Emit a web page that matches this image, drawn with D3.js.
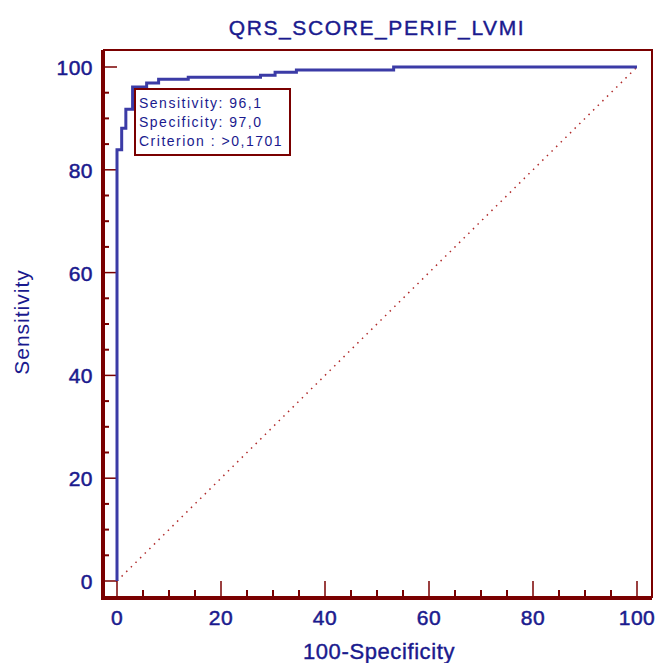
<!DOCTYPE html>
<html>
<head>
<meta charset="utf-8">
<script src="https://cdn.jsdelivr.net/npm/d3@7"></script>
<style>
  body { margin: 0; background: white; }
  text { font-family: "Liberation Sans", Arial, sans-serif; }
</style>
</head>
<body>
<svg></svg>
<script>
var w = 658;
var h = 663;

// roc curve (100-specificity, sensitivity)
var fpr = [0, 0, 0.9, 1.7, 3.0, 5.7, 8.0, 13.7, 27.6, 30.4, 34.5, 53.2, 100];
var tpr = [0, 83.9, 88.1, 91.8, 96.1, 96.9, 97.6, 98.0, 98.4, 99.0, 99.4, 100, 100];

var xTicks = [0, 20, 40, 60, 80, 100];
var yTicks = [0, 20, 40, 60, 80, 100];
var title = "QRS_SCORE_PERIF_LVMI";
var xLabel = "100-Specificity";
var yLabel = "Sensitivity";
var legendLines = ["Sensitivity: 96,1", "Specificity: 97,0", "Criterion : >0,1701"];

var navy = "#1a1a8e";
var red = "#7a0000";
var blue = "#3b3ba6";

var frame = {left: 103, top: 50, right: 652, bottom: 598};

var x = d3.scaleLinear().domain([0, 100]).range([117, 637]);
var y = d3.scaleLinear().domain([0, 100]).range([581, 67]);

var svg = d3.select("svg").attr("width", w).attr("height", h);

svg.append("rect").attr("width", w).attr("height", h).attr("fill", "white");

// frame: top and right thin, left and bottom heavy
svg.append("path")
  .attr("d", "M" + frame.left + "," + frame.top + "H" + frame.right + "V" + frame.bottom)
  .attr("fill", "none").attr("stroke", red).attr("stroke-width", 2);
svg.append("path")
  .attr("d", "M" + frame.left + "," + frame.top + "V" + frame.bottom + "H" + frame.right)
  .attr("fill", "none").attr("stroke", red).attr("stroke-width", 4);

// minor + major ticks, drawn inward from the axis lines
var minor = d3.range(0, 101, 5);

svg.selectAll("line.yt")
  .data(minor)
  .enter()
  .append("line")
  .attr("class", "yt")
  .attr("x1", frame.left)
  .attr("x2", function(d){ return d % 20 == 0 ? x(0) : frame.left + 6; })
  .attr("y1", function(d){ return y(d); })
  .attr("y2", function(d){ return y(d); })
  .attr("stroke", red)
  .attr("stroke-width", function(d){ return d % 20 == 0 ? 1.5 : 2; });

svg.selectAll("line.xt")
  .data(minor)
  .enter()
  .append("line")
  .attr("class", "xt")
  .attr("y1", frame.bottom)
  .attr("y2", function(d){ return d % 20 == 0 ? y(0) : frame.bottom - 8; })
  .attr("x1", function(d){ return x(d); })
  .attr("x2", function(d){ return x(d); })
  .attr("stroke", red)
  .attr("stroke-width", function(d){ return d % 20 == 0 ? 1.5 : 2; });

// tick labels
svg.selectAll("text.yl")
  .data(yTicks)
  .enter()
  .append("text")
  .attr("class", "yl")
  .text(function(d){ return d; })
  .attr("x", 93)
  .attr("y", function(d){ return y(d) + 8; })
  .attr("text-anchor", "end")
  .attr("font-size", "21px")
  .attr("letter-spacing", "0.5px")
  .attr("fill", navy)
  .attr("stroke", navy)
  .attr("stroke-width", 0.5);

svg.selectAll("text.xl")
  .data(xTicks)
  .enter()
  .append("text")
  .attr("class", "xl")
  .text(function(d){ return d; })
  .attr("x", function(d){ return x(d); })
  .attr("y", 625)
  .attr("text-anchor", "middle")
  .attr("font-size", "21px")
  .attr("letter-spacing", "0.5px")
  .attr("fill", navy)
  .attr("stroke", navy)
  .attr("stroke-width", 0.5);

// titles
svg.append("text")
  .text(title)
  .attr("x", 377).attr("y", 35)
  .attr("text-anchor", "middle")
  .attr("font-size", "21px")
  .attr("letter-spacing", "1.6px")
  .attr("fill", navy)
  .attr("stroke", navy)
  .attr("stroke-width", 0.4);

svg.append("text")
  .text(xLabel)
  .attr("x", 379).attr("y", 659)
  .attr("text-anchor", "middle")
  .attr("font-size", "22px")
  .attr("letter-spacing", "0.6px")
  .attr("fill", navy)
  .attr("stroke", navy)
  .attr("stroke-width", 0.4);

svg.append("text")
  .text(yLabel)
  .attr("transform", "translate(29,322) rotate(-90)")
  .attr("text-anchor", "middle")
  .attr("font-size", "21px")
  .attr("letter-spacing", "1px")
  .attr("fill", navy);

// chance diagonal
svg.append("line")
  .attr("x1", x(0)).attr("y1", y(0))
  .attr("x2", x(100)).attr("y2", y(100))
  .attr("stroke", "#b02a2a")
  .attr("stroke-width", 1.5)
  .attr("stroke-dasharray", "1.5,5");

// roc curve
var pts = fpr.map(function(v, i){ return [v, tpr[i]]; });
var line = d3.line()
  .x(function(d){ return x(d[0]); })
  .y(function(d){ return y(d[1]); })
  .curve(d3.curveStepAfter);

svg.append("path")
  .datum(pts)
  .attr("d", line)
  .attr("fill", "none")
  .attr("stroke", blue)
  .attr("stroke-width", 3);

// criterion box
var box = svg.append("g").attr("transform", "translate(135,89)");
box.append("rect")
  .attr("width", 155).attr("height", 66)
  .attr("fill", "white")
  .attr("stroke", red)
  .attr("stroke-width", 2);
box.selectAll("text")
  .data(legendLines)
  .enter()
  .append("text")
  .text(function(d){ return d; })
  .attr("x", 4)
  .attr("y", function(d, i){ return 19 + i * 19; })
  .attr("font-size", "14px")
  .attr("letter-spacing", "1.5px")
  .attr("fill", navy);
</script>
</body>
</html>
